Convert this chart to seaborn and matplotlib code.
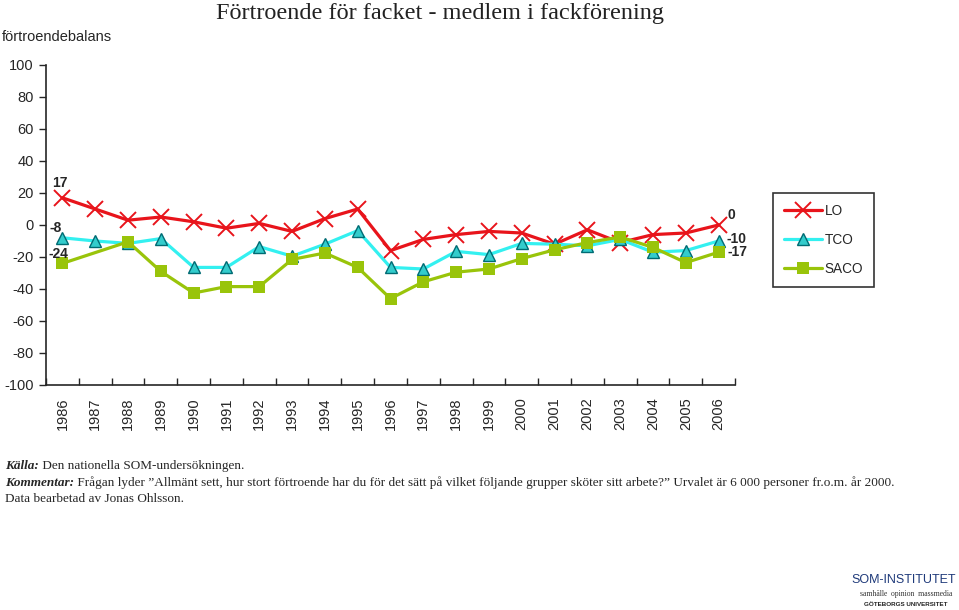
import numpy as np
import pandas as pd
import matplotlib
matplotlib.use("Agg")
import matplotlib.pyplot as plt
import seaborn as sns

# ---- data ----
years = list(range(1986, 2007))
lo = [17, 10, 3, 5, 2, -2, 1, -4, 4, 10, -16, -9, -6, -4, -5, -12, -3, -11, -6, -5, 0]
tco = [-8, -10, -11.5, -8.5, -26.5, -26.5, -13.5, -19.5, -12, -3.5, -26.5, -27.5,
       -16.5, -18.5, -11.5, -12, -13, -9, -17, -16, -10]
saco = [-24, np.nan, -10.5, -29, -42.5, -38.5, -38.5, -21.5, -17.5, -26.5, -46, -35.5,
        -29.5, -27.5, -21, -15.5, -11, -7.5, -14, -23.5, -17]
series_names = ["LO", "TCO", "SACO"]
yticks = list(range(-100, 101, 20))

title = "Förtroende för facket - medlem i fackförening"
ylabel = "förtroendebalans"

sns.set_style("ticks")
plt.rcParams["font.family"] = ["Liberation Sans", "DejaVu Sans"]

fig = plt.figure(figsize=(9.59, 6.10), dpi=100)
ax = fig.add_axes([46 / 959, 1 - 385 / 610, (735 - 46) / 959, (385 - 65) / 610])

df = pd.DataFrame({"year": years, "LO": lo, "TCO": tco, "SACO": saco})

styles = {
    "LO": dict(color="#E8141B", marker="x", markersize=11, markeredgewidth=1.4,
               markeredgecolor="#E8141B"),
    "TCO": dict(color="#33F0F0", marker="^", markersize=8, markeredgewidth=1.0,
                markeredgecolor="#006B73", markerfacecolor="#33CCCC"),
    "SACO": dict(color="#99C40A", marker="s", markersize=8, markeredgewidth=0,
                 markerfacecolor="#99C40A"),
}

for name in series_names:
    sub = df[["year", name]].dropna()
    sns.lineplot(data=sub, x="year", y=name, ax=ax, linewidth=2.3, label=name,
                 **styles[name])

ax.set_xlim(1985.5, 2006.5)
ax.set_ylim(-100, 100)
ax.set_yticks(yticks)
ax.set_yticklabels([str(t) for t in yticks], fontsize=10.5)
ax.set_xticks(years)
ax.set_xticklabels([str(y) for y in years], rotation=90, fontsize=10.5)
ax.set_xticks(np.arange(years[0] - 0.5, years[-1] + 1.0, 1.0), minor=True)
ax.tick_params(axis="x", which="major", length=0, pad=9)
ax.tick_params(axis="x", which="minor", direction="in", length=5, width=1)
ax.tick_params(axis="y", direction="out", length=5, width=1, pad=4)
ax.set_xlabel("")
ax.set_ylabel("")
for s in ["top", "right"]:
    ax.spines[s].set_visible(False)
for s in ["left", "bottom"]:
    ax.spines[s].set_linewidth(1.2)

# data labels
lab = dict(textcoords="offset points", ha="center", va="center", fontsize=10,
           fontweight="bold")
ax.annotate(f"{lo[0]:g}", (years[0], lo[0]), xytext=(-1.5, 11), **lab)
ax.annotate(f"{tco[0]:g}", (years[0], tco[0]), xytext=(-5, 7), **lab)
ax.annotate(f"{saco[0]:g}", (years[0], saco[0]), xytext=(-3, 7), **lab)
ax.annotate(f"{lo[-1]:g}", (years[-1], lo[-1]), xytext=(9, 7), **lab)
ax.annotate(f"{tco[-1]:g}", (years[-1], tco[-1]), xytext=(13, 1.5), **lab)
ax.annotate(f"{saco[-1]:g}", (years[-1], saco[-1]), xytext=(13.5, 0), **lab)

leg = ax.legend(loc="upper left", bbox_to_anchor=(773 / 959, 1 - 193 / 610),
                bbox_transform=fig.transFigure, frameon=True, fancybox=False,
                edgecolor="black", fontsize=9.8, labelspacing=1.1, handlelength=2.8,
                borderpad=0.8, borderaxespad=0, handletextpad=0.2)
leg.get_frame().set_linewidth(1.2)

fig.text(440 / 959, 1 - 13 / 610, title, ha="center", va="center", fontsize=17.5,
         family=["Liberation Serif", "DejaVu Serif"], color="#222222")
fig.text(2 / 959, 1 - 37 / 610, ylabel, ha="left", va="center", fontsize=10.5)

serif = ["Liberation Serif", "DejaVu Serif"]
fs = 9.5
t1 = fig.text(5 / 959, 1 - 466 / 610, "Källa:", ha="left", va="center", fontsize=fs,
              family=serif, style="italic", weight="bold")
ax.annotate(" Den nationella SOM-undersökningen.", xy=(1, 0), xycoords=t1,
            ha="left", va="bottom", fontsize=fs, family=serif, annotation_clip=False)
t2 = fig.text(5 / 959, 1 - 483 / 610, "Kommentar:", ha="left", va="center", fontsize=fs,
              family=serif, style="italic", weight="bold")
ax.annotate(" Frågan lyder \u201dAllmänt sett, hur stort förtroende har du för det sätt på "
            "vilket följande grupper sköter sitt arbete?\u201d Urvalet är 6 000 personer "
            "fr.o.m. år 2000.", xy=(1, 0), xycoords=t2, ha="left", va="bottom",
            fontsize=fs, family=serif, annotation_clip=False)
fig.text(5 / 959, 1 - 499 / 610, "Data bearbetad av Jonas Ohlsson.", ha="left",
         va="center", fontsize=fs, family=serif)

# logo text
fig.text(956 / 959, 1 - 580 / 610, "SOM-INSTITUTET", ha="right", va="center",
         fontsize=9, color="#1F3A7A", family=["Liberation Sans", "DejaVu Sans"])
fig.text(906 / 959, 1 - 594 / 610, "samhälle  opinion  massmedia", ha="center",
         va="center", fontsize=5.5, color="#333333", family=serif)
fig.text(906 / 959, 1 - 605 / 610, "GÖTEBORGS UNIVERSITET", ha="center", va="center",
         fontsize=4.5, color="#222222", weight="bold")

fig.savefig("out.png", dpi=100)
